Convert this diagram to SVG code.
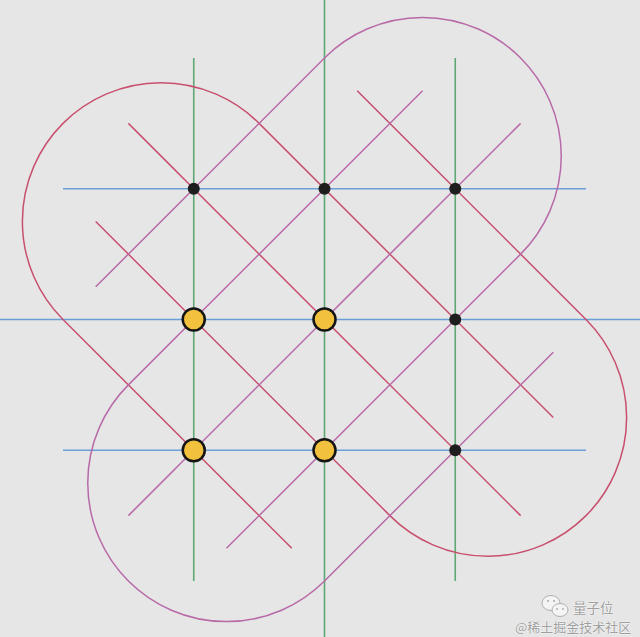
<svg xmlns="http://www.w3.org/2000/svg" width="640" height="637" viewBox="0 0 640 637">
<style>
.g{stroke:#5da873;stroke-width:1.6;fill:none}
.b{stroke:#6a9fd8;stroke-width:1.6;fill:none}
.r{stroke:#c8506e;stroke-width:1.5;fill:none}
.p{stroke:#b86aa8;stroke-width:1.5;fill:none}
.k{fill:#1e1e1e}
.y{fill:#f2c13e;stroke:#141414;stroke-width:2.5}
.wm{font-family:"Noto Sans CJK SC","Noto Sans",sans-serif;fill:#a0a0a0;stroke:#ffffff;stroke-width:0.6;paint-order:stroke}
</style>
<rect width="640" height="637" fill="#e6e6e6"/>
<g id="connectors">
<line class="g" x1="193.75" y1="58" x2="193.75" y2="581"/>
<line class="g" x1="324.5" y1="0" x2="324.5" y2="637"/>
<line class="g" x1="455.25" y1="58" x2="455.25" y2="581"/>
<line class="b" x1="63" y1="188.75" x2="586" y2="188.75"/>
<line class="b" x1="0" y1="319.5" x2="640" y2="319.5"/>
<line class="b" x1="63" y1="450.25" x2="586" y2="450.25"/>
<path class="r" d="M128.375,123.375 L520.625,515.625"/>
<path class="r" d="M553.31,417.56 L259.125,123.375 A138.68,138.68 0 0 0 63,319.5 L291.81,548.31"/>
<path class="r" d="M357.19,90.69 L586,319.5 A138.68,138.68 0 0 1 389.875,515.625 L95.69,221.44"/>
<path class="p" d="M128.375,515.625 L520.625,123.375"/>
<path class="p" d="M95.69,286.81 L324.5,58 A138.68,138.68 0 0 1 520.625,254.125 L226.44,548.31"/>
<path class="p" d="M422.56,90.69 L128.375,384.875 A138.68,138.68 0 0 0 324.5,581 L553.31,352.19"/>
</g>
<g id="n00"><circle class="k" cx="193.75" cy="188.75" r="6"/></g>
<g id="n10"><circle class="k" cx="324.5" cy="188.75" r="6"/></g>
<g id="n20"><circle class="k" cx="455.25" cy="188.75" r="6"/></g>
<g id="n01"><circle class="y" cx="193.75" cy="319.5" r="11"/></g>
<g id="n11"><circle class="y" cx="324.5" cy="319.5" r="11"/></g>
<g id="n21"><circle class="k" cx="455.25" cy="319.5" r="6"/></g>
<g id="n02"><circle class="y" cx="193.75" cy="450.25" r="11"/></g>
<g id="n12"><circle class="y" cx="324.5" cy="450.25" r="11"/></g>
<g id="n22"><circle class="k" cx="455.25" cy="450.25" r="6"/></g>
<g id="watermark">
<ellipse cx="551" cy="603" rx="9" ry="7.5" fill="#f4f4f4" stroke="#b0b0b0" stroke-width="1"/>
<ellipse cx="560" cy="610" rx="8" ry="6.5" fill="#f4f4f4" stroke="#b0b0b0" stroke-width="1"/>
<circle cx="548" cy="601" r="1.1" fill="#b0b0b0"/>
<circle cx="554" cy="601" r="1.1" fill="#b0b0b0"/>
<circle cx="557" cy="609" r="1" fill="#b0b0b0"/>
<circle cx="563" cy="609" r="1" fill="#b0b0b0"/>
<text class="wm" x="573" y="613" font-size="13.5">量子位</text>
<text class="wm" x="515" y="632" font-size="13" fill="#bdbdbd">@稀土掘金技术社区</text>
</g>
</svg>
